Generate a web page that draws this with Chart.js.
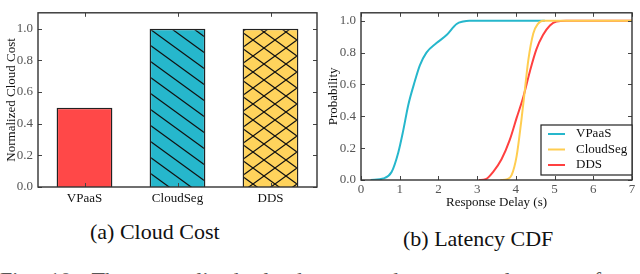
<!DOCTYPE html>
<html>
<head>
<meta charset="utf-8">
<script src="https://cdn.jsdelivr.net/npm/chart.js@4/dist/chart.umd.min.js"></script>
<style>
  html, body { margin: 0; padding: 0; background: #fff; overflow: hidden; }
  body { width: 640px; height: 274px; position: relative; }
  .pane { position: absolute; top: 0; width: 320px; height: 210px; }
  .cap { position: absolute; font-family: "Liberation Serif", serif; font-size: 22px; color: #111; white-space: nowrap; }
  .fig { position: absolute; left: 0; top: 267px; width: 640px; font-family: "Liberation Serif", serif; font-size: 22px; color: #555; white-space: nowrap; word-spacing: 9px; }
</style>
</head>
<body>
<div class="pane" style="left:0"><canvas id="cost" width="320" height="210"></canvas></div>
<div class="pane" style="left:320px"><canvas id="cdf" width="320" height="210"></canvas></div>
<div class="cap" style="left:90px; top:219px">(a) Cloud Cost</div>
<div class="cap" style="left:403px; top:226px">(b) Latency CDF</div>
<div class="fig">Fig. 10: The normalized cloud cost and response latency of</div>
<script>
// bar chart data
const systems = ['VPaaS', 'CloudSeg', 'DDS'];
const costValues = [0.5, 1.0, 1.0];
const costTicks = [0, 0.2, 0.4, 0.6, 0.8, 1.0];

// CDF data
const vpaasDelay = [0.25, 0.58, 0.79, 0.96, 1.09, 1.22, 1.39, 1.52, 1.69, 1.95, 2.21, 2.47, 2.64, 2.8, 4.75];
const vpaasProb  = [0, 0.01, 0.05, 0.17, 0.31, 0.47, 0.62, 0.72, 0.80, 0.86, 0.91, 0.98, 0.995, 1.0, 1.0];
const cloudSegDelay = [3.6, 3.78, 3.89, 4.02, 4.14, 4.23, 4.32, 4.45, 4.57, 4.7, 7.0];
const cloudSegProb  = [0, 0.005, 0.03, 0.15, 0.37, 0.56, 0.75, 0.92, 0.98, 1.0, 1.0];
const ddsDelay = [3.05, 3.22, 3.41, 3.63, 3.84, 4.02, 4.19, 4.36, 4.53, 4.7, 4.88, 5.05, 5.3, 7.0];
const ddsProb  = [0, 0.005, 0.05, 0.13, 0.25, 0.39, 0.52, 0.68, 0.82, 0.91, 0.97, 0.995, 1.0, 1.0];
const delayTicks = [0, 1, 2, 3, 4, 5, 6, 7];
const probTicks = [0, 0.2, 0.4, 0.6, 0.8, 1.0];

const RED = 'rgb(255,72,72)';
const TEAL = 'rgb(38,183,204)';
const YELLOW = 'rgb(255,211,92)';
const LINE_YELLOW = 'rgb(255,205,80)';
const LINE_RED = 'rgb(255,64,64)';

const serif = '"Liberation Serif", "DejaVu Serif", serif';

const makeHatch = (bg, cross) => {
    const w = 22, h = 16;
    const c = document.createElement('canvas');
    c.width = w;
    c.height = h;
    const g = c.getContext('2d');
    g.fillStyle = bg;
    g.fillRect(0, 0, w, h);
    g.strokeStyle = '#111';
    g.lineWidth = 1.2;
    for (let k = -1; k <= 1; k++) {
        g.beginPath();
        g.moveTo(k * w - w, -h);
        g.lineTo(k * w + 2 * w, 2 * h);
        g.stroke();
        if (cross) {
            g.beginPath();
            g.moveTo(k * w - w, 2 * h);
            g.lineTo(k * w + 2 * w, -h);
            g.stroke();
        }
    }
    return g.createPattern(c, 'repeat');
};

const toPoints = (xs, ys) => xs.map((x, i) => ({ x, y: ys[i] }));

// frame plus inward ticks, matplotlib style
const framePlugin = {
    id: 'frame',
    afterDraw(chart) {
        const { ctx, chartArea: a, scales } = chart;
        const len = 4;
        ctx.save();
        ctx.strokeStyle = '#444';
        ctx.lineWidth = 1;
        scales.y.ticks.forEach((t) => {
            const py = Math.round(scales.y.getPixelForValue(t.value)) + 0.5;
            ctx.beginPath();
            ctx.moveTo(a.left, py); ctx.lineTo(a.left + len, py);
            ctx.moveTo(a.right, py); ctx.lineTo(a.right - len, py);
            ctx.stroke();
        });
        scales.x.ticks.forEach((t, i) => {
            const px = Math.round(scales.x.getPixelForTick(i)) + 0.5;
            ctx.beginPath();
            ctx.moveTo(px, a.top); ctx.lineTo(px, a.top + len);
            ctx.moveTo(px, a.bottom); ctx.lineTo(px, a.bottom - len);
            ctx.stroke();
        });
        ctx.lineWidth = 1.4;
        ctx.strokeStyle = '#333';
        ctx.strokeRect(a.left, a.top, a.right - a.left, a.bottom - a.top);
        ctx.restore();
    },
};

const legendPlugin = {
    id: 'boxLegend',
    afterDraw(chart) {
        const { ctx, chartArea: a } = chart;
        const w = 91, h = 50;
        const left = a.right - w, top = a.bottom - 5 - h;
        ctx.save();
        ctx.fillStyle = '#fff';
        ctx.fillRect(left, top, w, h);
        ctx.strokeStyle = '#222';
        ctx.lineWidth = 1.2;
        ctx.strokeRect(left, top, w, h);
        ctx.font = '13px ' + serif;
        ctx.textBaseline = 'middle';
        chart.data.datasets.forEach((ds, i) => {
            const y = top + 9 + i * 15.5;
            ctx.strokeStyle = ds.borderColor;
            ctx.lineWidth = 2;
            ctx.beginPath();
            ctx.moveTo(left + 7, y);
            ctx.lineTo(left + 24, y);
            ctx.stroke();
            ctx.fillStyle = '#111';
            ctx.fillText(ds.label, left + 35, y);
        });
        ctx.restore();
    },
};

const fixed = (size) => (scale) => {
    if (scale.isHorizontal()) scale.height = size; else scale.width = size;
};
const setTicks = (values) => (scale) => {
    scale.ticks = values.map((v) => ({ value: v }));
};

new Chart(document.getElementById('cost'), {
    type: 'bar',
    data: {
        labels: systems,
        datasets: [{
            data: costValues,
            backgroundColor: [RED, makeHatch(TEAL, false), makeHatch(YELLOW, true)],
            borderColor: '#222',
            borderWidth: 1.5,
            barPercentage: 0.6,
            categoryPercentage: 1,
        }],
    },
    options: {
        responsive: false,
        animation: false,
        events: [],
        layout: { padding: { top: 8, right: 3, left: 0, bottom: 0 } },
        plugins: { legend: { display: false }, tooltip: { enabled: false } },
        scales: {
            x: {
                grid: { display: false, drawTicks: false },
                border: { display: false },
                ticks: { color: '#111', font: { family: serif, size: 13 }, padding: 4 },
                afterFit: fixed(23),
            },
            y: {
                min: 0,
                max: 1.1,
                grid: { display: false, drawTicks: false },
                border: { display: false },
                afterBuildTicks: setTicks(costTicks),
                ticks: { color: '#555', font: { family: serif, size: 13 }, padding: 5,
                    callback: (v) => v.toFixed(1) },
                title: { display: true, text: 'Normalized Cloud Cost', color: '#111',
                    font: { family: serif, size: 13 } },
                afterFit: fixed(38),
            },
        },
    },
    plugins: [framePlugin],
});

new Chart(document.getElementById('cdf'), {
    type: 'line',
    data: {
        datasets: [
            { label: 'VPaaS', data: toPoints(vpaasDelay, vpaasProb), borderColor: TEAL, order: 2 },
            { label: 'CloudSeg', data: toPoints(cloudSegDelay, cloudSegProb), borderColor: LINE_YELLOW, order: 0 },
            { label: 'DDS', data: toPoints(ddsDelay, ddsProb), borderColor: LINE_RED, order: 1 },
        ],
    },
    options: {
        responsive: false,
        animation: false,
        events: [],
        layout: { padding: { top: 2, right: 8, left: 0, bottom: 0 } },
        elements: {
            point: { radius: 0 },
            line: { borderWidth: 2, cubicInterpolationMode: 'monotone', fill: false },
        },
        plugins: { legend: { display: false }, tooltip: { enabled: false } },
        scales: {
            x: {
                type: 'linear',
                min: 0,
                max: 7,
                grid: { display: false, drawTicks: false },
                border: { display: false },
                afterBuildTicks: setTicks(delayTicks),
                ticks: { color: '#555', font: { family: serif, size: 13 }, padding: 2 },
                title: { display: true, text: 'Response Delay (s)', color: '#111',
                    font: { family: serif, size: 13 }, padding: 0 },
                afterFit: fixed(30),
            },
            y: {
                min: 0,
                max: 1.05,
                grid: { display: false, drawTicks: false },
                border: { display: false },
                afterBuildTicks: setTicks(probTicks),
                ticks: { color: '#555', font: { family: serif, size: 13 }, padding: 5,
                    callback: (v) => v.toFixed(1) },
                title: { display: true, text: 'Probability', color: '#111',
                    font: { family: serif, size: 13 }, padding: 6 },
                afterFit: fixed(41),
            },
        },
    },
    plugins: [framePlugin, legendPlugin],
});
</script>
</body>
</html>
